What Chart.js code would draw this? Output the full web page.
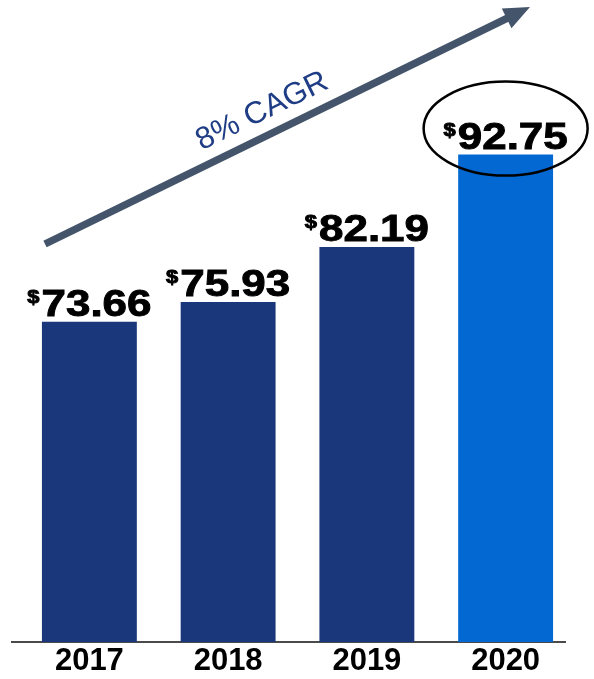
<!DOCTYPE html>
<html>
<head>
<meta charset="utf-8">
<script src="https://cdn.jsdelivr.net/npm/chart.js@4"></script>
<style>
  html, body { margin: 0; padding: 0; background: #fff; }
  #wrap { width: 594px; height: 679px; position: relative; }
</style>
</head>
<body>
<div id="wrap"><canvas id="revenueChart"></canvas></div>
<script>
// revenue per year ($)
const years = ['2017', '2018', '2019', '2020'];
const revenue = [73.66, 75.93, 82.19, 92.75];
const growthLabel = '8% CAGR';

const navy = '#19377a';
const brightBlue = '#0468d3';
const barColors = years.map((y, i) => i === years.length - 1 ? brightBlue : navy);

const FONT = '"Liberation Sans", Arial, sans-serif';
const STRETCH = 1.22;

// baseline under the bars
const baseLine = {
    id: 'baseLine',
    beforeDatasetsDraw(chart) {
        const { ctx, chartArea } = chart;
        ctx.save();
        ctx.strokeStyle = '#4a4a4a';
        ctx.lineWidth = 2;
        ctx.beginPath();
        ctx.moveTo(chartArea.left - 9, chartArea.bottom);
        ctx.lineTo(chartArea.right - 9, chartArea.bottom);
        ctx.stroke();
        ctx.restore();
    }
};

// draws text squeezed out sideways, a little heavier than plain bold
function wideText(ctx, txt, x, y, size) {
    ctx.save();
    ctx.translate(x, y);
    ctx.scale(STRETCH, 1);
    ctx.font = 'bold ' + size + 'px ' + FONT;
    ctx.lineWidth = 0.9;
    ctx.fillText(txt, 0, 0);
    ctx.strokeText(txt, 0, 0);
    ctx.restore();
}

// "$" + value above each bar
const valueLabels = {
    id: 'valueLabels',
    afterDatasetsDraw(chart) {
        const { ctx } = chart;
        const bars = chart.getDatasetMeta(0).data;
        ctx.save();
        ctx.fillStyle = '#000';
        ctx.strokeStyle = '#000';
        ctx.textBaseline = 'alphabetic';
        bars.forEach((bar, i) => {
            const num = revenue[i].toFixed(2);
            ctx.font = 'bold 36px ' + FONT;
            const numW = ctx.measureText(num).width * STRETCH;
            ctx.font = 'bold 18px ' + FONT;
            const dolW = ctx.measureText('$').width * STRETCH;
            const total = dolW + 2 + numW;
            const x0 = bar.x - total / 2;
            const base = bar.y - 6;
            wideText(ctx, '$', x0, base - 13, 18);
            wideText(ctx, num, x0 + dolW + 2, base, 36);
        });
        ctx.restore();
    }
};

// growth arrow, its caption and the ring round the last value
const annotations = {
    id: 'annotations',
    afterDraw(chart) {
        const { ctx } = chart;
        const x1 = 45, y1 = 244, x2 = 530, y2 = 7;
        const ang = Math.atan2(y2 - y1, x2 - x1);
        const headLen = 26, headHalf = 11;
        const bx = x2 - headLen * Math.cos(ang);
        const by = y2 - headLen * Math.sin(ang);

        ctx.save();
        ctx.strokeStyle = '#44546a';
        ctx.fillStyle = '#44546a';
        ctx.lineWidth = 7.5;
        ctx.beginPath();
        ctx.moveTo(x1, y1);
        ctx.lineTo(bx + 2 * Math.cos(ang), by + 2 * Math.sin(ang));
        ctx.stroke();
        ctx.beginPath();
        ctx.moveTo(x2, y2);
        ctx.lineTo(bx - headHalf * Math.sin(ang), by + headHalf * Math.cos(ang));
        ctx.lineTo(bx + headHalf * Math.sin(ang), by - headHalf * Math.cos(ang));
        ctx.closePath();
        ctx.fill();

        // caption along the arrow
        ctx.translate(266, 119);
        ctx.rotate(ang);
        ctx.font = '31px ' + FONT;
        ctx.fillStyle = '#1f3d85';
        ctx.textAlign = 'center';
        ctx.textBaseline = 'alphabetic';
        ctx.fillText(growthLabel, 0, 0);
        ctx.restore();

        const last = chart.getDatasetMeta(0).data[revenue.length - 1];
        ctx.save();
        ctx.strokeStyle = '#000';
        ctx.lineWidth = 2.5;
        ctx.beginPath();
        ctx.ellipse(last.x, last.y - 26, 82, 47, 0, 0, Math.PI * 2);
        ctx.stroke();
        ctx.restore();
    }
};

new Chart(document.getElementById('revenueChart'), {
    type: 'bar',
    data: {
        labels: years,
        datasets: [{
            data: revenue,
            backgroundColor: barColors,
            borderWidth: 0,
            barPercentage: 1,
            categoryPercentage: 0.684
        }]
    },
    options: {
        responsive: true,
        maintainAspectRatio: false,
        animation: false,
        layout: { padding: { left: 20, right: 19, top: 0, bottom: 0 } },
        plugins: {
            legend: { display: false },
            tooltip: { enabled: false }
        },
        scales: {
            x: {
                grid: { display: false, drawTicks: false },
                border: { display: false },
                ticks: {
                    color: '#000',
                    padding: 1,
                    font: { family: FONT, size: 31, weight: 'bold' }
                },
                afterFit(scale) { scale.height = 37; }
            },
            y: {
                display: false,
                min: 37.1,
                max: 110.4
            }
        }
    },
    plugins: [baseLine, valueLabels, annotations]
});
</script>
</body>
</html>
